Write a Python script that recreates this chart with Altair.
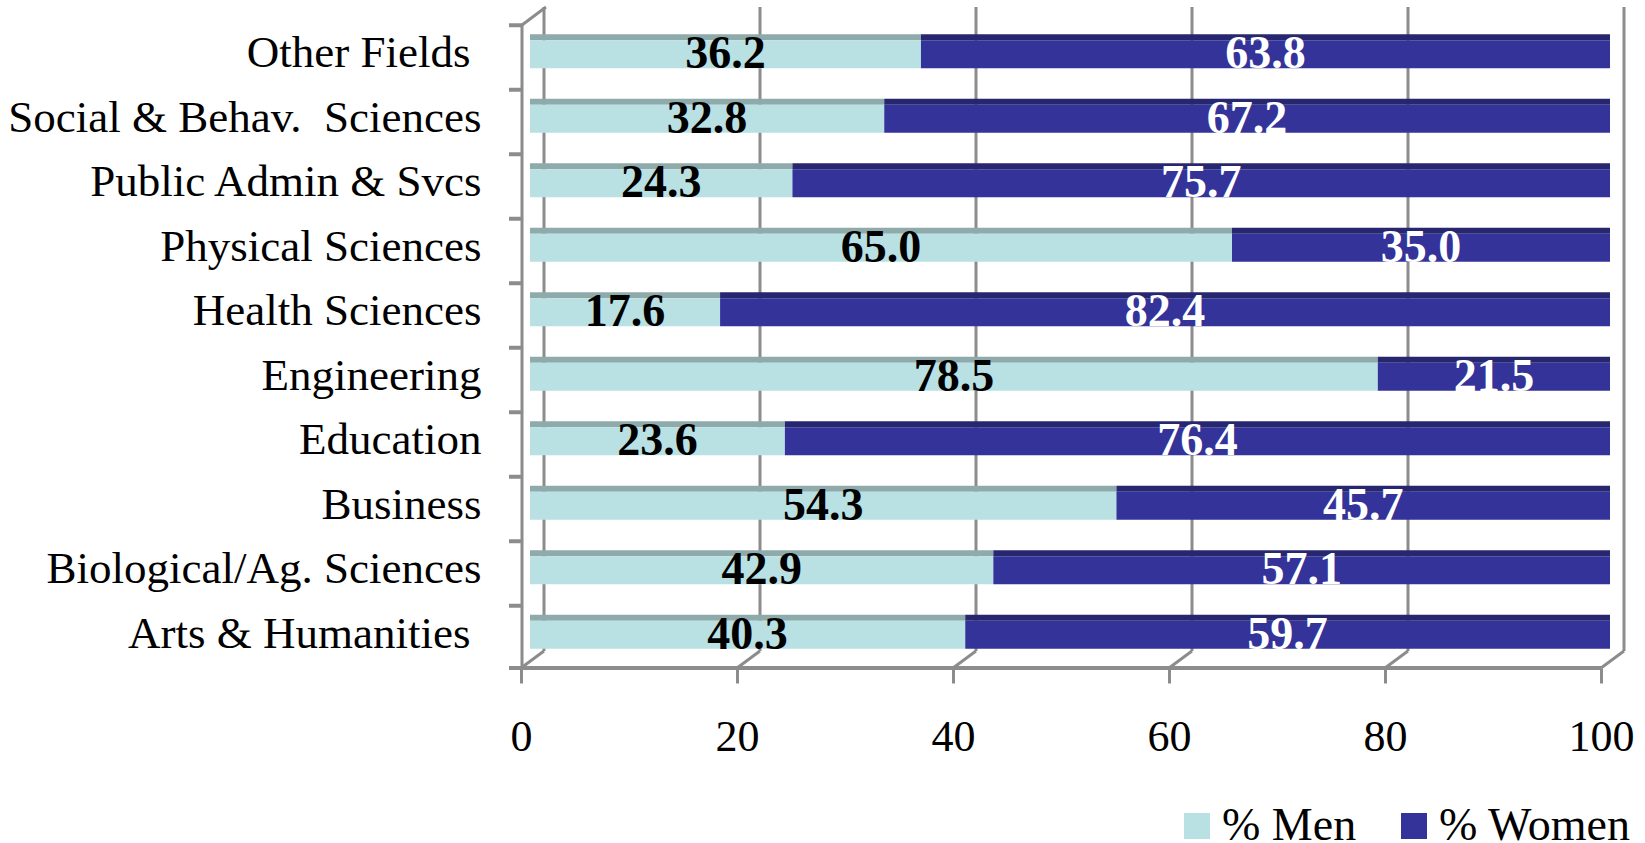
import altair as alt
import pandas as pd

# Share of degrees by field, men vs women (percent)
fields = [
    "Other Fields",
    "Social &\u00a0Behav.\u00a0 Sciences",
    "Public Admin &\u00a0Svcs",
    "Physical Sciences",
    "Health Sciences",
    "Engineering",
    "Education",
    "Business",
    "Biological/Ag. Sciences",
    "Arts &\u00a0Humanities",
]
men = [36.2, 32.8, 24.3, 65.0, 17.6, 78.5, 23.6, 54.3, 42.9, 40.3]
women = [63.8, 67.2, 75.7, 35.0, 82.4, 21.5, 76.4, 45.7, 57.1, 59.7]
groups = ["% Men", "% Women"]
tick_values = [0, 20, 40, 60, 80, 100]
# category labels set slightly further in from the axis
indented = ["Other Fields", "Arts &\u00a0Humanities"]

FRONT = ["#B9E0E3", "#333399"]
TOP = ["#8EAAAB", "#27276F"]
INK = ["#000000", "#FFFFFF"]
GRID = "#8C8C8C"
FONT = "Liberation Serif"

rows = []
for f, m, w in zip(fields, men, women):
    for i, (g, v, s) in enumerate([(groups[0], m, 0.0), (groups[1], w, m)]):
        rows.append({
            "field": f, "group": g, "value": v,
            "start": s, "end": s + v, "mid": s + v / 2,
            "top": TOP[i], "ink": INK[i],
        })
df = pd.DataFrame(rows)
ticks_df = pd.DataFrame({"v": tick_values})
cats_df = pd.DataFrame({"field": fields})
span = pd.DataFrame({"a": [tick_values[0]], "b": [tick_values[-1]]})

xscale = alt.Scale(domain=[0, 100], nice=False, zero=True)
yscale = alt.Scale(domain=fields, paddingInner=0.5, paddingOuter=0.25)

indent_test = " || ".join("datum.value == '%s'" % s for s in indented)

x_axis = alt.Axis(
    values=tick_values, title=None, domain=False, grid=False,
    offset=5, tickOffset=-9, tickSize=15, tickWidth=3, tickColor=GRID,
    labelFont=FONT, labelFontSize=44, labelColor="#000000", labelPadding=32,
    labelFlush=False,
)
y_axis = alt.Axis(
    title=None, domain=False, ticks=False, grid=False,
    labelFont=FONT, labelFontSize=45, labelColor="#000000",
    labelPadding={"condition": {"test": indent_test, "value": 60}, "value": 49},
    labelOffset=3, labelLimit=0,
)

# back-wall gridlines
grid = alt.Chart(ticks_df).mark_rule(color=GRID, strokeWidth=3, xOffset=14).encode(
    x=alt.X("v:Q", scale=xscale, axis=x_axis),
    y=alt.value(-11), y2=alt.value(633),
)
# depth lines from back wall down to front floor
depth = alt.Chart(ticks_df).mark_rule(color=GRID, strokeWidth=3, xOffset=14, x2Offset=-9).encode(
    x=alt.X("v:Q", scale=xscale), x2="v:Q",
    y=alt.value(633), y2=alt.value(650),
)
floor = alt.Chart(span).mark_rule(color=GRID, strokeWidth=4, xOffset=-21, x2Offset=-9).encode(
    x=alt.X("a:Q", scale=xscale), x2="b:Q", y=alt.value(650),
)
left_wall = alt.Chart(span).mark_rule(color=GRID, strokeWidth=3).encode(
    x=alt.value(-8), y=alt.value(7), y2=alt.value(650),
)
left_top = alt.Chart(span).mark_rule(color=GRID, strokeWidth=3).encode(
    x=alt.value(-8), x2=alt.value(16), y=alt.value(7), y2=alt.value(-11),
)
left_ticks = alt.Chart(cats_df).mark_rule(color=GRID, strokeWidth=4, yOffset=-25).encode(
    y=alt.Y("field:N", scale=yscale, axis=y_axis),
    x=alt.value(-21), x2=alt.value(-8),
)

front = alt.Chart(df).mark_bar(size=28, yOffset=4).encode(
    y=alt.Y("field:N", scale=yscale, axis=y_axis),
    x=alt.X("start:Q", scale=xscale),
    x2="end:Q",
    color=alt.Color(
        "group:N",
        scale=alt.Scale(domain=groups, range=FRONT),
        legend=alt.Legend(
            title=None, orient="none", direction="horizontal",
            legendX=644, legendY=785, padding=0,
            symbolType="square", symbolSize=676,
            symbolStrokeWidth=0, symbolOpacity=1,
            labelFont=FONT, labelFontSize=46, labelColor="#000000",
            labelOffset=2, columnPadding=34, labelLimit=0,
        ),
    ),
)
top_face = alt.Chart(df).mark_bar(size=6, yOffset=-13).encode(
    y=alt.Y("field:N", scale=yscale),
    x=alt.X("start:Q", scale=xscale),
    x2="end:Q",
    color=alt.Color("top:N", scale=None),
)
labels = alt.Chart(df).mark_text(
    font=FONT, fontSize=46, fontWeight="bold", baseline="middle", align="center", yOffset=4,
).encode(
    y=alt.Y("field:N", scale=yscale),
    x=alt.X("mid:Q", scale=xscale),
    text=alt.Text("value:Q", format=".1f"),
    color=alt.Color("ink:N", scale=None),
)

chart = alt.layer(
    grid, depth, floor, left_wall, left_top, left_ticks, top_face, front, labels
).properties(
    width=1080, height=645,
    autosize=alt.AutoSizeParams(type="none"),
    padding={"left": 530, "top": 18, "right": 35, "bottom": 180},
    background="#FFFFFF",
).configure_view(stroke=None)

chart.save("out.html", embed_options={"renderer": "svg", "actions": False})
